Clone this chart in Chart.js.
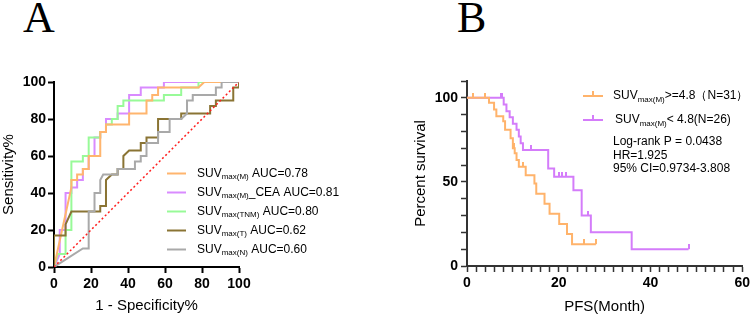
<!DOCTYPE html>
<html>
<head>
<meta charset="utf-8">
<script src="https://cdn.jsdelivr.net/npm/chart.js@4.4.1/dist/chart.umd.min.js"></script>
<style>
  body { margin: 0; background: #fff; width: 753px; height: 317px; overflow: hidden; position: relative; }
  canvas { position: absolute; top: 0; }
  #rocCanvas { left: 0; }
  #kmCanvas { left: 376px; }
  .panel { position: absolute; font-family: "Liberation Serif", "Times New Roman", serif; font-size: 44px; line-height: 1; color: #000; }
</style>
</head>
<body>
<div class="panel" style="left:23px;top:-4px">A</div>
<div class="panel" style="left:457px;top:-4px">B</div>
<canvas id="rocCanvas" width="376" height="317"></canvas>
<canvas id="kmCanvas" width="377" height="317"></canvas>
<script>
// ---------- Panel A: ROC curves (1 - specificity %, sensitivity %) ----------
const mFpr = [0, 9.4, 9.4, 12.5, 12.5, 15.6, 15.6, 18.75, 18.75, 25, 25, 28.1, 28.1, 40.6, 40.6, 50, 50, 53.1, 53.1, 56.25, 56.25, 78.1, 81.25, 100];
const mTpr = [0, 43, 47, 47, 50, 50, 53, 53, 60, 60, 73, 73, 77, 77, 83, 83, 90, 90, 93, 93, 97, 97, 100, 100];

const ceaFpr = [0, 3.1, 3.1, 6.25, 6.25, 9.4, 9.4, 12.5, 12.5, 15.6, 15.6, 18.75, 18.75, 21.9, 21.9, 25, 25, 28.1, 28.1, 34.4, 34.4, 40.6, 40.6, 46.9, 46.9, 59.4, 59.4, 100];
const ceaTpr = [0, 7, 20, 20, 40, 40, 43, 43, 47, 47, 53, 53, 60, 60, 70, 70, 73, 73, 80, 80, 83, 83, 93, 93, 97, 97, 100, 100];

const tnmFpr = [0, 2, 6.25, 6.25, 9.4, 9.4, 15.6, 15.6, 18.75, 18.75, 25, 25, 28.1, 28.1, 31.25, 31.25, 34.4, 34.4, 37.5, 37.5, 59.4, 59.4, 68.75, 68.75, 78.1, 78.1, 100];
const tnmTpr = [0, 7, 7, 20, 20, 57, 57, 60, 60, 70, 70, 73, 73, 77, 77, 80, 80, 87, 87, 90, 90, 93, 93, 97, 97, 100, 100];

const tFpr = [0, 0, 6.25, 6.25, 9.4, 25, 25, 28.1, 28.1, 31.25, 34.4, 34.4, 37.5, 37.5, 40.6, 46.9, 46.9, 50, 50, 56.25, 56.25, 68.75, 68.75, 84.4, 84.4, 87.5, 87.5, 96.9, 96.9, 100, 100];
const tTpr = [0, 17, 17, 23, 30, 30, 33, 33, 47, 50, 50, 53, 53, 60, 63, 63, 67, 67, 70, 70, 80, 80, 83, 83, 87, 87, 90, 90, 97, 97, 100];

const nFpr = [0, 15.6, 18.75, 18.75, 21.9, 21.9, 25, 25, 26.6, 34.4, 34.4, 43.75, 43.75, 46.9, 46.9, 50, 50, 56.25, 56.25, 62.5, 62.5, 68.75, 71.9, 71.9, 75, 75, 87.5, 87.5, 90.6, 90.6, 100];
const nTpr = [0, 10, 10, 30, 30, 40, 40, 47, 50, 50, 53, 53, 57, 57, 60, 60, 67, 67, 73, 73, 80, 80, 83, 90, 90, 93, 93, 97, 97, 100, 100];

const refLine = [0, 100];

// legend text: SUV + subscript + rest
const rocSubs = ['max(M)', 'max(M)', 'max(TNM)', 'max(T)', 'max(N)'];
const rocRest = [' AUC=0.78', '_CEA AUC=0.81', ' AUC=0.80', ' AUC=0.62', ' AUC=0.60'];
const rocColors = ['#FFB56E', '#D98BFF', '#98FA98', '#8A7434', '#A9A9A9'];

// ---------- Panel B: Kaplan-Meier PFS ----------
const highTime = [0, 4.8, 5.9, 6.4, 7.9, 8.3, 9.5, 10.0, 10.4, 10.8, 11.3, 12.8, 14.7, 15.1, 16.9, 18.0, 20.1, 21.8, 22.9, 28.1];
const highSurv = [100, 97, 93, 89, 86, 81, 76, 70, 67, 63, 59, 54, 49, 43, 37, 31, 25, 19, 13, 13];
const highCensor = [1.2, 4.0, 10.2, 12.2, 25.5, 28.1];

const lowTime = [0, 8.0, 8.6, 9.3, 10.0, 10.8, 11.3, 11.7, 12.2, 17.7, 19.0, 23.2, 25.0, 27.0, 35.9, 48.3];
const lowSurv = [100, 96, 92, 88.5, 84.6, 81, 77, 73, 69, 58, 53, 45, 30, 20, 10, 10];
const lowCensor = [7.4, 7.7, 14.0, 20.1, 20.8, 21.6, 26.3, 48.3];

const kmSubs = ['max(M)', 'max(M)'];
const kmRest = ['>=4.8（N=31）', '< 4.8(N=26)'];
const kmColors = ['#FFB36B', '#D47CFA'];
const kmStats = ['Log-rank P = 0.0438', 'HR=1.925', '95% CI=0.9734-3.808'];

const FONT = '"Liberation Sans", Arial, sans-serif';

function toPoints(xs, ys) {
  return xs.map((x, i) => ({ x: x, y: ys[i] }));
}

// survival value at time t (step function)
function survAt(times, surv, t) {
  let s = surv[0];
  for (let i = 0; i < times.length; i++) {
    if (times[i] <= t) s = surv[i];
  }
  return s;
}

// small tick that sits on top of the curve, used for censored cases
function censorMark(color) {
  const c = document.createElement('canvas');
  c.width = 2;
  c.height = 10;
  const g = c.getContext('2d');
  g.fillStyle = color;
  g.fillRect(0, 0, 2, 5);
  return c;
}

// draws "SUV" with a subscript and the rest of the label
function drawSubLabel(ctx, x, y, sub, rest, size, subSize) {
  ctx.textBaseline = 'middle';
  ctx.textAlign = 'left';
  ctx.fillStyle = '#000';
  ctx.font = size + 'px ' + FONT;
  ctx.fillText('SUV', x, y);
  x += ctx.measureText('SUV').width;
  ctx.font = subSize + 'px ' + FONT;
  ctx.fillText(sub, x, y + 3.5);
  x += ctx.measureText(sub).width;
  ctx.font = size + 'px ' + FONT;
  ctx.fillText(rest, x, y);
}

const rocLegend = {
  id: 'rocLegend',
  afterDraw(chart) {
    const ctx = chart.ctx;
    ctx.save();
    for (let i = 0; i < rocSubs.length; i++) {
      const y = 173.5 + i * 19;
      ctx.strokeStyle = rocColors[i];
      ctx.lineWidth = 2;
      ctx.beginPath();
      ctx.moveTo(167, y);
      ctx.lineTo(186, y);
      ctx.stroke();
      drawSubLabel(ctx, 197, y, rocSubs[i], rocRest[i], 12, 8);
    }
    ctx.restore();
  }
};

const kmLegend = {
  id: 'kmLegend',
  afterDraw(chart) {
    const ctx = chart.ctx;
    ctx.save();
    for (let i = 0; i < kmSubs.length; i++) {
      const y = 96 + i * 24;
      ctx.strokeStyle = kmColors[i];
      ctx.lineWidth = 2;
      ctx.beginPath();
      ctx.moveTo(207, y);
      ctx.lineTo(227, y);
      ctx.moveTo(217, y);
      ctx.lineTo(217, y - 5);
      ctx.stroke();
      drawSubLabel(ctx, 237 + i * 2, y, kmSubs[i], kmRest[i], 12, 8);
    }
    ctx.font = '12px ' + FONT;
    ctx.fillStyle = '#000';
    kmStats.forEach((s, i) => ctx.fillText(s, 237, 142 + i * 13.5));
    ctx.restore();
  }
};

function lineSet(xs, ys, color) {
  return {
    data: toPoints(xs, ys),
    showLine: true,
    borderColor: color,
    backgroundColor: color,
    borderWidth: 2,
    pointRadius: 0,
    tension: 0
  };
}

// ROC chart
new Chart(document.getElementById('rocCanvas'), {
  type: 'scatter',
  data: {
    datasets: [
      Object.assign(lineSet(refLine, refLine, '#FF1E1E'), { borderWidth: 1.5, borderDash: [2, 2.5] }),
      lineSet(nFpr, nTpr, rocColors[4]),
      lineSet(tFpr, tTpr, rocColors[3]),
      lineSet(mFpr, mTpr, rocColors[0]),
      lineSet(tnmFpr, tnmTpr, rocColors[2]),
      lineSet(ceaFpr, ceaTpr, rocColors[1])
    ]
  },
  options: {
    responsive: false,
    animation: false,
    layout: { padding: { left: 0, top: 82, right: 137, bottom: 0 } },
    plugins: { legend: { display: false }, tooltip: { enabled: false } },
    scales: {
      x: {
        type: 'linear', min: 0, max: 100,
        border: { display: true, color: '#000', width: 2 },
        grid: { drawOnChartArea: false, drawTicks: true, tickLength: 6, tickColor: '#000', tickWidth: 2 },
        ticks: { stepSize: 20, color: '#000', padding: 3, maxRotation: 0, font: { family: FONT, size: 14, weight: 'bold' } },
        title: { display: true, text: '1 - Specificity%', color: '#000', padding: { top: 0, bottom: 2 }, font: { family: FONT, size: 15 } },
        afterFit(scale) { scale.height = 50; }
      },
      y: {
        type: 'linear', min: 0, max: 100,
        border: { display: true, color: '#000', width: 2 },
        grid: { drawOnChartArea: false, drawTicks: true, tickLength: 6, tickColor: '#000', tickWidth: 2 },
        ticks: { stepSize: 20, color: '#000', padding: 2, font: { family: FONT, size: 14, weight: 'bold' } },
        title: { display: true, text: 'Sensitivity%', color: '#000', padding: { top: 0, bottom: 0 }, font: { family: FONT, size: 15 } },
        afterFit(scale) { scale.width = 54; }
      }
    }
  },
  plugins: [rocLegend]
});

function stepSet(times, surv, color) {
  return {
    data: toPoints(times, surv),
    showLine: true,
    stepped: 'before', // horizontal first, then drop at the event time
    borderColor: color,
    borderWidth: 2,
    pointRadius: 0
  };
}

function censorSet(times, surv, censor, color) {
  return {
    data: censor.map(t => ({ x: t, y: survAt(times, surv, t) })),
    showLine: false,
    pointStyle: censorMark(color),
    pointRadius: 5
  };
}

// Kaplan-Meier chart
new Chart(document.getElementById('kmCanvas'), {
  type: 'scatter',
  data: {
    datasets: [
      stepSet(highTime, highSurv, kmColors[0]),
      censorSet(highTime, highSurv, highCensor, kmColors[0]),
      stepSet(lowTime, lowSurv, kmColors[1]),
      censorSet(lowTime, lowSurv, lowCensor, kmColors[1])
    ]
  },
  options: {
    responsive: false,
    animation: false,
    layout: { padding: { left: 36, top: 81, right: 9, bottom: 0 } },
    plugins: { legend: { display: false }, tooltip: { enabled: false } },
    scales: {
      x: {
        type: 'linear', min: 0, max: 60,
        border: { display: true, color: '#333', width: 2 },
        grid: { drawOnChartArea: false, drawTicks: true, tickLength: 6, tickColor: '#333', tickWidth: 1.5 },
        ticks: {
          stepSize: 2, autoSkip: false, color: '#000', padding: 3, maxRotation: 0,
          font: { family: FONT, size: 14, weight: 'bold' },
          callback: v => (v % 20 === 0 ? v : '')
        },
        title: { display: true, text: 'PFS(Month)', color: '#000', padding: { top: 0, bottom: 1 }, font: { family: FONT, size: 15 } },
        afterFit(scale) { scale.height = 51; }
      },
      y: {
        type: 'linear', min: 0, max: 110,
        border: { display: true, color: '#333', width: 2 },
        grid: { drawOnChartArea: false, drawTicks: true, tickLength: 6, tickColor: '#333', tickWidth: 1.5 },
        ticks: {
          stepSize: 10, autoSkip: false, color: '#000', padding: 3,
          font: { family: FONT, size: 14, weight: 'bold' },
          callback: v => (v % 50 === 0 && v <= 100 ? v : '')
        },
        title: { display: true, text: 'Percent survival', color: '#000', padding: { top: 0, bottom: 0 }, font: { family: FONT, size: 15 } },
        afterFit(scale) { scale.width = 55; }
      }
    }
  },
  plugins: [kmLegend]
});
</script>
</body>
</html>
